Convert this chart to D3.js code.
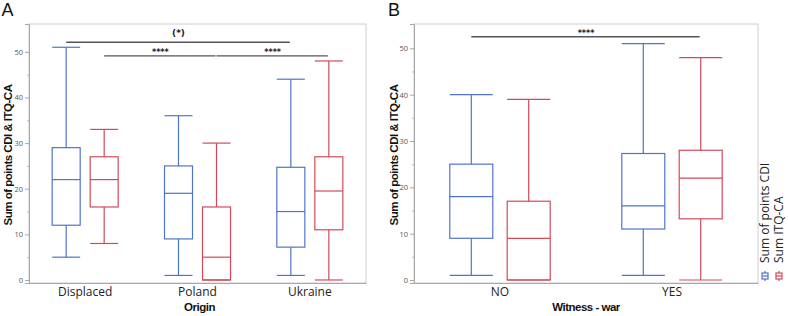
<!DOCTYPE html>
<html><head><meta charset="utf-8">
<script src="https://cdn.jsdelivr.net/npm/d3@7"></script>
<style>body{margin:0;background:#fff}svg{display:block}</style>
</head><body>
<svg id="c" width="788" height="316"></svg>
<script>
// ---- data ----
const seriesNames = ["Sum of points CDI", "Sum ITQ-CA"];
const seriesColors = ["#4f74cc", "#d24a5a"];
const yTicks = [0, 10, 20, 30, 40, 50];
const yMinorTicks = [5, 15, 25, 35, 45];

const originCats = ["Displaced", "Poland", "Ukraine"];
// [min, q1, median, q3, max]
const originCDI = [[5, 12, 22, 29, 51], [1, 9, 19, 25, 36], [1, 7.2, 15, 24.7, 44]];
const originITQ = [[8, 16, 22, 27, 33], [0, 0, 5, 16, 30], [0, 11, 19.5, 27, 48]];
const originSig = [
  {from: ["Displaced", 0], to: ["Ukraine", 0], y: 52.1, label: "(*)"},
  {from: ["Displaced", 1], to: ["Poland", 1], y: 49.1, label: "****"},
  {from: ["Poland", 1], to: ["Ukraine", 1], y: 49.1, label: "****"}
];

const witnessCats = ["NO", "YES"];
const witnessCDI = [[1, 9, 18, 25, 40], [1, 11, 16, 27.3, 51]];
const witnessITQ = [[0, 0, 9, 17, 39], [0, 13.2, 22, 28, 48]];
const witnessSig = [
  {from: ["NO", 0], to: ["YES", 1], y: 52.5, label: "****"}
];

const svg = d3.select("#c");

function panel(o) {
  const g = svg.append("g");
  const x = d3.scaleBand().domain(o.cats).range([o.x0, o.x1]).paddingInner(0).paddingOuter(0);
  const y = d3.scaleLinear().domain(o.yDomain).range([o.y1, o.y0]);
  // frame
  g.append("rect").attr("x", o.x0).attr("y", o.y0).attr("width", o.x1 - o.x0).attr("height", o.y1 - o.y0)
    .attr("fill", "none").attr("stroke", "#cdcdcd").attr("stroke-width", 1);
  // y axis
  const ya = g.append("g").attr("transform", `translate(${o.x0},0)`)
    .call(d3.axisLeft(y).tickValues(yTicks).tickSize(4).tickPadding(2));
  ya.select(".domain").attr("stroke", "#a8a8a8");
  ya.selectAll(".tick line").attr("stroke", "#a8a8a8");
  ya.selectAll("text").attr("font-family", "Open Sans, sans-serif").attr("font-size", 7.5).attr("fill", "#555");
  const ym = g.append("g").attr("transform", `translate(${o.x0},0)`)
    .call(d3.axisLeft(y).tickValues(yMinorTicks).tickSize(2).tickFormat(""));
  ym.select(".domain").remove();
  ym.selectAll(".tick line").attr("stroke", "#bbb");
  // x axis
  const xa = g.append("g").attr("transform", `translate(0,${o.y1})`)
    .call(d3.axisBottom(x).tickSize(0).tickPadding(4.5));
  xa.select(".domain").attr("stroke", "#a8a8a8");
  xa.selectAll("text").attr("font-family", "Open Sans, sans-serif").attr("font-size", 12).attr("fill", "#222");
  // axis titles
  g.append("text").attr("x", (o.x0 + o.x1) / 2 + o.xtDx).attr("y", 311)
    .attr("text-anchor", "middle").attr("font-family", "Liberation Sans, Arial, sans-serif")
    .attr("font-weight", "bold").attr("font-size", 11.5).attr("fill", "#111")
    .style("letter-spacing", "-0.5px").text(o.xTitle);
  g.append("text").attr("transform", `translate(${o.ytX},155) rotate(-90)`)
    .attr("text-anchor", "middle").attr("font-family", "Liberation Sans, Arial, sans-serif")
    .attr("font-weight", "bold").attr("font-size", 11.5).attr("fill", "#111")
    .style("letter-spacing", "-0.5px")
    .text("Sum of points CDI & ITQ-CA");
  // boxes
  const off = o.off, bw = o.bw;
  const series = [o.cdi, o.itq];
  series.forEach((vals, si) => {
    const col = seriesColors[si];
    const sg = g.append("g").attr("stroke", col).attr("stroke-width", 1.2).attr("fill", "none");
    o.cats.forEach((c, i) => {
      const v = vals[i];
      const cx = x(c) + x.bandwidth() / 2 + (si === 0 ? -off : off);
      sg.append("line").attr("x1", cx).attr("x2", cx).attr("y1", y(v[3])).attr("y2", y(v[4]));
      sg.append("line").attr("x1", cx).attr("x2", cx).attr("y1", y(v[0])).attr("y2", y(v[1]));
      sg.append("line").attr("x1", cx - bw / 2).attr("x2", cx + bw / 2).attr("y1", y(v[4])).attr("y2", y(v[4]));
      sg.append("line").attr("x1", cx - bw / 2).attr("x2", cx + bw / 2).attr("y1", y(v[0])).attr("y2", y(v[0]));
      sg.append("rect").attr("x", cx - bw / 2).attr("y", y(v[3])).attr("width", bw)
        .attr("height", Math.max(0, y(v[1]) - y(v[3])));
      sg.append("line").attr("x1", cx - bw / 2).attr("x2", cx + bw / 2).attr("y1", y(v[2])).attr("y2", y(v[2]));
    });
  });
  // significance
  o.sig.forEach(s => {
    const xa_ = x(s.from[0]) + x.bandwidth() / 2 + (s.from[1] === 0 ? -off : off);
    const xb_ = x(s.to[0]) + x.bandwidth() / 2 + (s.to[1] === 0 ? -off : off);
    g.append("line").attr("x1", xa_).attr("x2", xb_ - 1).attr("y1", y(s.y)).attr("y2", y(s.y))
      .attr("stroke", "#555").attr("stroke-width", 1.3);
    g.append("text").attr("x", (xa_ + xb_) / 2).attr("y", y(s.y) - (s.label === "(*)" ? 6 : 1))
      .attr("text-anchor", "middle").attr("font-family", "DejaVu Sans, sans-serif")
      .attr("font-size", s.label === "(*)" ? 9 : 8).attr("font-weight", "bold").attr("fill", "#222")
      .text(s.label);
  });
  // panel letter
  svg.append("text").attr("x", o.letterX).attr("y", 16).attr("font-family", "Liberation Sans, Arial, sans-serif")
    .attr("font-size", 18).attr("fill", "#111").text(o.letter);
  return {x, y};
}

panel({cats: originCats, cdi: originCDI, itq: originITQ, sig: originSig, yDomain: [-0.66, 56.1],
  x0: 29, x1: 366, y0: 24, y1: 283, off: 19, bw: 28, xTitle: "Origin", xtDx: 2,
  ytX: 11.5, letter: "A", letterX: 1.5});
panel({cats: witnessCats, cdi: witnessCDI, itq: witnessITQ, sig: witnessSig, yDomain: [-0.65, 55.25],
  x0: 414, x1: 758, y0: 24, y1: 283, off: 28.7, bw: 43, xTitle: "Witness - war", xtDx: 0,
  ytX: 397.5, letter: "B", letterX: 388});

// legend
const lg = svg.append("g");
seriesNames.forEach((n, i) => {
  const lx = 765 + i * 14;
  lg.append("text").attr("transform", `translate(${lx + 3.5},263) rotate(-90)`)
    .attr("font-family", "Open Sans, sans-serif").attr("font-size", 12).attr("fill", "#222").text(n);
  const ic = lg.append("g").attr("stroke", seriesColors[i]).attr("stroke-width", 1.2).attr("fill", "none");
  ic.append("line").attr("x1", lx).attr("x2", lx).attr("y1", 271).attr("y2", 281);
  ic.append("rect").attr("x", lx - 3).attr("y", 273).attr("width", 6).attr("height", 6).attr("fill", "#fff");
  ic.append("line").attr("x1", lx - 3).attr("x2", lx + 3).attr("y1", 276).attr("y2", 276);
});
</script>
</body></html>
